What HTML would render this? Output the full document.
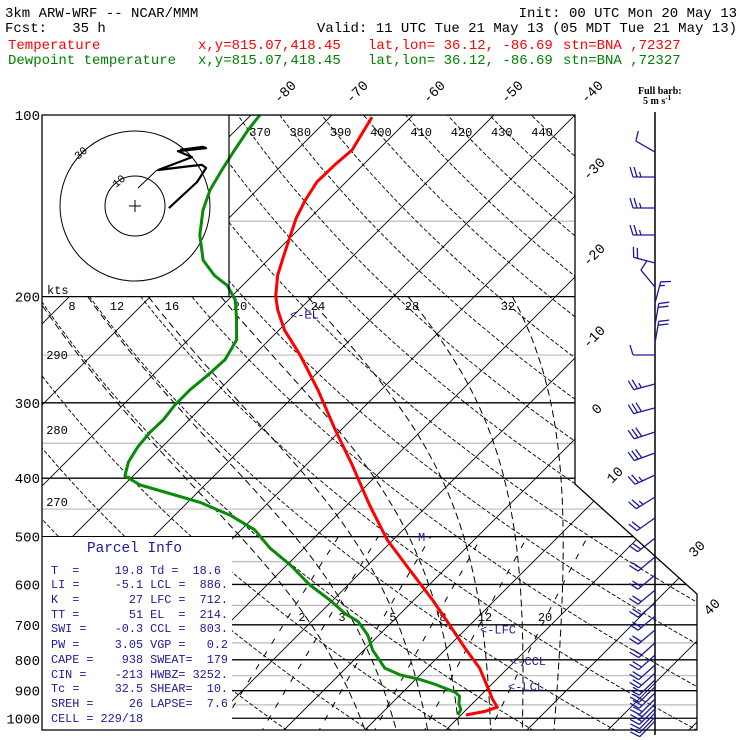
<!DOCTYPE html>
<html><head><meta charset="utf-8"><style>
html,body{margin:0;padding:0;background:#fff;width:740px;height:740px;overflow:hidden}
svg text{font-family:"Liberation Mono",monospace;white-space:pre}
</style></head><body>
<svg id="chart" width="740" height="740" viewBox="0 0 740 740" xmlns="http://www.w3.org/2000/svg">
<defs><clipPath id="frameClip"><polygon points="42,115 575,115 575,484 697,594 697,730 42,730"/></clipPath></defs>
<g font-size="14">
<text x="5" y="17">3km ARW-WRF -- NCAR/MMM</text>
<text x="737" y="17" text-anchor="end">Init: 00 UTC Mon 20 May 13</text>
<text x="5" y="32">Fcst:   35 h</text>
<text x="737" y="32" text-anchor="end">Valid: 11 UTC Tue 21 May 13 (05 MDT Tue 21 May 13)</text>
<g fill="#ff0000">
<text x="8" y="49">Temperature</text><text x="198" y="49">x,y=815.07,418.45</text><text x="368" y="49">lat,lon= 36.12, -86.69</text><text x="563" y="49">stn=BNA ,72327</text></g>
<g fill="#008000">
<text x="8" y="64">Dewpoint temperature</text><text x="198" y="64">x,y=815.07,418.45</text><text x="368" y="64">lat,lon= 36.12, -86.69</text><text x="563" y="64">stn=BNA ,72327</text></g>
</g>
<g id="grid" clip-path="url(#frameClip)"></g>
<rect x="42" y="115" width="187" height="181" fill="#fff"/>
<rect x="42" y="537" width="190" height="193" fill="#fff"/>
<g id="hodo"></g>
<g id="labels"></g>
<g id="curves"></g>
<g id="barbs"></g>
<polygon points="42,115 575,115 575,484 697,594 697,730 42,730" fill="none" stroke="#000" stroke-width="1.3"/>
<line x1="229" y1="115" x2="229" y2="296" stroke="#000" stroke-width="1.2"/>
<g fill="#1a1a9a" font-size="11.8">
<text x="87" y="552" font-size="14.4">Parcel Info</text>
<text x="51" y="574">T  =     19.8 Td =  18.6</text>
<text x="51" y="588">LI =     -5.1 LCL =  886.</text>
<text x="51" y="603">K  =       27 LFC =  712.</text>
<text x="51" y="618">TT =       51 EL  =  214.</text>
<text x="51" y="632">SWI =    -0.3 CCL =  803.</text>
<text x="51" y="648">PW =     3.05 VGP =   0.2</text>
<text x="51" y="663">CAPE =    938 SWEAT=  179</text>
<text x="51" y="678">CIN =    -213 HWBZ= 3252.</text>
<text x="51" y="692">Tc =     32.5 SHEAR=  10.</text>
<text x="51" y="707">SREH =     26 LAPSE=  7.6</text>
<text x="51" y="722">CELL = 229/18</text>
</g>
<g font-weight="bold" font-size="10">
<text x="638" y="94" style="font-family:'Liberation Serif',serif">Full barb:</text>
<text x="643" y="104" style="font-family:'Liberation Serif',serif">5 m s<tspan font-size="7" dy="-4">-1</tspan></text>
</g>
</svg>
<script>
// ---- data ----
const tempP=[100.8,114.3,121,129.1,138.3,148.2,161.1,172.6,184.5,199.6,210.6,227.3,250,285.6,332.8,380.3,443.2,506.4,568,636.7,700.6,764.6,825.6,890.9,929.1,958.1,972.8,987.5];
const tempT=[-64.8,-63.2,-63.5,-63.6,-62.8,-61.7,-59.9,-58.4,-56.9,-54.6,-52.6,-49.3,-44.3,-37.8,-30.7,-24.3,-17.2,-10.7,-4.2,2.3,7.5,12.2,16.5,20.0,21.9,23.5,22.6,20.6];
const dewP=[100,105.9,114.3,123.4,133.1,143.7,158.1,174,184.5,191.6,202.6,217.2,236,254.6,269.6,285.6,302.4,320.2,335.6,355.1,375.8,396.7,410.5,424.1,438.6,460.4,487.3,522.3,557,601.3,636.7,670.8,691.6,727.7,771.1,825.6,847.1,862.8,879.1,905.7,919.4,947.6,966.9,987.5];
const dewT=[-78.9,-78.5,-77.7,-76.8,-75.8,-74.2,-71.5,-68,-64.7,-61.9,-59.1,-56.7,-54,-53,-53.2,-53.6,-53.6,-53.2,-53.3,-53,-52.3,-51,-48,-43.3,-38.5,-33.2,-28.3,-24.2,-19.6,-14.7,-10.4,-6.8,-4.2,-1.4,1.1,4.8,7.5,10.6,13.1,16.5,17.5,18.4,19.3,19.6];
const barbP=[115.2,126.7,142.6,158.1,175.9,192.8,205,223,238.7,249.9,279.2,305.9,335.3,363.3,395.1,429.8,465.5,502.8,540.3,579,613,644.3,677,714,750,785.4,815.9,841.5,863.7,887.3,908,929,946.8,965,979.6,995.4,1010];
const barbDir=[300,270,270,270,285,320,15,10,10,270,255,255,252,250,245,238,235,232,230,230,230,230,230,230,228,228,228,228,226,226,226,225,225,225,224,224,224];
const barbSpd=[5,12.5,12.5,12.5,10,5,7.5,10,10,5,12.5,15,15,15,12.5,12.5,10,10,10,10,10,10,10,10,10,10,10,10,10,10,10,10,7.5,7.5,5,5,5];
const hodoU=[11.3,20.7,23.7,22.3,18.3,7.7,19,14.3,23.7,22.7,15];
const hodoV=[-0.7,8,12.7,13.7,13.3,12,16.3,18.3,19.3,19.7,18.7];
const isobarLevels=[100,200,300,400,500,600,700,800,900,1000];
const isobarMinor=[150,250,350,450,550,650,750,850,950];
const isothermVals=[-150,-140,-130,-120,-110,-100,-90,-80,-70,-60,-50,-40,-30,-20,-10,0,10,20,30,40,50];
const thetaVals=[250,260,270,280,290,300,310,320,330,340,350,360,370,380,390,400,410,420,430,440,450,460,470];
const thetaWVals=[8,12,16,20,24,28,32];
const mixVals=[2,3,5,8,12,20];
const pLabels=["100","200","300","400","500","600","700","800","900","1000"];
const isoLabels=["-80","-70","-60","-50","-40","-30","-20","-10","0","10","30","40"];
const thetaTopLabels=["370","380","390","400","410","420","430","440"];
const thetaLeftLabels=["290","280","270"];
const moistLabels=["8","12","16","20","24","28","32"];
const mixLabels=["2","3","5","8","12","20"];
// ---- axes ----
const NS='http://www.w3.org/2000/svg';
function yP(p){return 115+262*Math.log(p/100);}
function xT(T,y){return 575+(T+40)*8.1-(y-115);}
function mk(tag,attrs,parent){const e=document.createElementNS(NS,tag);for(const k in attrs)e.setAttribute(k,attrs[k]);parent.appendChild(e);return e;}
const grid=document.getElementById('grid'),labels=document.getElementById('labels'),curves=document.getElementById('curves'),barbs=document.getElementById('barbs'),hodo=document.getElementById('hodo');
function pathFromPT(ps,ts){let d='';for(let i=0;i<ps.length;i++){const y=yP(ps[i]);d+=(i?'L':'M')+xT(ts[i],y).toFixed(1)+','+y.toFixed(1);}return d;}
const pSteps=[];for(let p=1060;p>=95;p-=5)pSteps.push(p);
isobarMinor.forEach(p=>{const l=mk('line',{x1:42,x2:700,y1:yP(p),y2:yP(p),stroke:'#bbb','stroke-width':1.2},grid);

});
isobarLevels.forEach(p=>{const l=mk('line',{x1:42,x2:700,y1:yP(p),y2:yP(p),stroke:'#000','stroke-width':1.3},grid);

});
isothermVals.forEach(T=>{const l=mk('line',{x1:xT(T,730),y1:730,x2:xT(T,115),y2:115,stroke:'#000','stroke-width':0.9},grid);

});
thetaVals.forEach(th=>{const ts=pSteps.map(p=>th*Math.pow(p/1000,0.286)-273.15);
const e=mk('path',{d:pathFromPT(pSteps,ts),fill:'none',stroke:'#000','stroke-width':0.9,'stroke-dasharray':'4,2'},grid);

});
function es(T){return 6.112*Math.exp(17.67*T/(T+243.5));}
function moist(tw){const res={};let T;res[1000]=tw;
for(let dir of [-1,1]){T=tw+273.15;let p=1000;while((dir<0&&p>200)||(dir>0&&p<1060)){const dp=dir*1;const tc=T-273.15;const rs=0.622*es(tc)/(p-es(tc));
const g=(287*T+2.5e6*rs)/(p*(1004+2.5e6*2.5e6*rs*0.622/(287*T*T)));T+=g*dp;p+=dp;if(p%5===0)res[p]=T-273.15;}}return res;}
thetaWVals.forEach(tw=>{const r=moist(tw);const ps=Object.keys(r).map(Number).sort((a,b)=>a-b);
const e=mk('path',{d:pathFromPT(ps,ps.map(p=>r[p])),fill:'none',stroke:'#000','stroke-width':1,'stroke-dasharray':'7,4'},grid);

});
mixVals.forEach(w=>{const ps=pSteps.filter(p=>p>=500);const ts=ps.map(p=>{const e=w*p/(622+w);const l=Math.log(e/6.112);return 243.5*l/(17.67-l);});
const e=mk('path',{d:pathFromPT(ps,ts),fill:'none',stroke:'#000','stroke-width':1,'stroke-dasharray':'6,9'},grid);

});
function txt(s,x,y,attrs,name){const t=mk('text',Object.assign({x:x,y:y,'font-size':13},attrs||{}),labels);t.textContent=s;

return t;}
pLabels.forEach((s,i)=>txt(s,40,yP(isobarLevels[i])+5,{'text-anchor':'end','font-size':14},'pressure-label'));
const isoPos=[[288,95],[360,95],[437,95],[515,95],[595,95],[597,172],[597,258],[597,340],[600,412],[618,478],[700,552],[715,610]];
isoLabels.forEach((s,i)=>txt(s,isoPos[i][0],isoPos[i][1],{'text-anchor':'middle','font-size':14,transform:'rotate(-45 '+isoPos[i][0]+' '+isoPos[i][1]+')'},'isotherm-label'));
thetaTopLabels.forEach((s,i)=>txt(s,260+i*40.3,136,{'text-anchor':'middle','font-size':12},'theta-label'));
thetaLeftLabels.forEach((s,i)=>txt(s,57,[359,434,506][i],{'text-anchor':'middle','font-size':12},'theta-label'));
moistLabels.forEach((s,i)=>txt(s,[72,117,172,240,318,412,508][i],310,{'text-anchor':'middle','font-size':12},'moist-adiabat-label'));
mixLabels.forEach((s,i)=>txt(s,[302,342,393,443,485,545][i],621,{'text-anchor':'middle','font-size':12},'mixing-ratio-label'));
txt('kts',47,294,{'font-size':12},'hodograph-units');
const ann=[['<-EL',214,290],['<-LFC',712,480],['<-CCL',803,510],['<-LCL',886,508]];
ann.forEach(a=>txt(a[0],a[2],yP(a[1])+4,{fill:'#1a1a9a','font-size':12},'level-annotation'));
txt('M',418,541,{fill:'#1a1a9a','font-size':12},'max-wind-marker');
const tp=mk('path',{d:pathFromPT(tempP,tempT),fill:'none',stroke:'#ff0000','stroke-width':3,'stroke-linejoin':'round'},curves);


const dp=mk('path',{d:pathFromPT(dewP,dewT),fill:'none',stroke:'#0a8a0a','stroke-width':3,'stroke-linejoin':'round'},curves);


const hc=[135,206];
[30,75].forEach(r=>{const c=mk('circle',{cx:hc[0],cy:hc[1],r:r,fill:'none',stroke:'#000','stroke-width':1},hodo);

});
mk('line',{x1:129,y1:206,x2:141,y2:206,stroke:'#000'},hodo);mk('line',{x1:135,y1:200,x2:135,y2:212,stroke:'#000'},hodo);
const ht1=mk('text',{x:116,y:188,'font-size':11,transform:'rotate(-40 116 188)'},hodo);ht1.textContent='10';
const ht2=mk('text',{x:78,y:160,'font-size':11,transform:'rotate(-40 78 160)'},hodo);ht2.textContent='30';
mk('line',{x1:138,y1:188,x2:157,y2:170,stroke:'#000','stroke-width':1},hodo);
let hd='';hodoU.forEach((u,i)=>{hd+=(i?'L':'M')+(hc[0]+u*3).toFixed(1)+','+(hc[1]-hodoV[i]*3).toFixed(1);});
const hl=mk('path',{d:hd,fill:'none',stroke:'#000','stroke-width':2.2,'stroke-linejoin':'round'},hodo);


const sx=655;
const st=mk('line',{x1:sx,y1:112,x2:sx,y2:735,stroke:'#000','stroke-width':1.5},barbs);


barbP.forEach((p,i)=>{const y=yP(p),a=barbDir[i]*Math.PI/180;const vx=Math.sin(a),vy=-Math.cos(a);
const fx=Math.sin(a+Math.PI/2),fy=-Math.cos(a+Math.PI/2);const L=22;
const tx=sx+vx*L,ty=y+vy*L;let d='M'+sx+','+y.toFixed(1)+'L'+tx.toFixed(1)+','+ty.toFixed(1);
let s=barbSpd[i],k=0;while(s>=4.9){const bx=tx-vx*k*4,by=ty-vy*k*4;d+='M'+bx.toFixed(1)+','+by.toFixed(1)+'L'+(bx+fx*10+vx*3).toFixed(1)+','+(by+fy*10+vy*3).toFixed(1);s-=5;k++;}
if(s>=2.4){const bx=tx-vx*k*4,by=ty-vy*k*4;d+='M'+bx.toFixed(1)+','+by.toFixed(1)+'L'+(bx+fx*5+vx*1.5).toFixed(1)+','+(by+fy*5+vy*1.5).toFixed(1);}
const b=mk('path',{d:d,fill:'none',stroke:'#1a1a9a','stroke-width':1.3},barbs);

});
</script>
</body></html>
